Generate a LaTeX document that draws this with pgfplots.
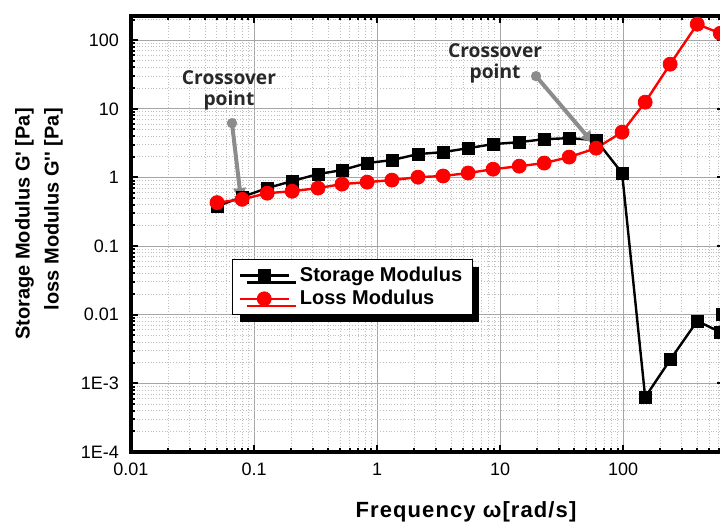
\documentclass[border=0pt]{standalone}
\usepackage{pgfplots}
\pgfplotsset{compat=1.18}
\usepackage{fontspec}
\setmainfont{Liberation Sans}
\newfontfamily\notefont{Open Sans}
\usetikzlibrary{shadows,arrows.meta}

\definecolor{arrowgray}{RGB}{140,140,140}
\definecolor{notegray}{RGB}{40,40,40}

% Storage modulus G' and loss modulus G'' against angular frequency
\pgfplotstableread{
w       Gs
0.050   0.38
0.080   0.52
0.128   0.70
0.204   0.885
0.331   1.12
0.519   1.28
0.830   1.62
1.32    1.79
2.15    2.19
3.44    2.34
5.50    2.67
8.77    3.06
14.3    3.27
22.8    3.61
36.4    3.74
60.3    3.50
98      1.16
151     0.00063
241     0.0022
400     0.0081
615     0.0056
638     0.0102
}\storage

\pgfplotstableread{
w       Gl
0.050   0.43
0.080   0.48
0.128   0.59
0.204   0.63
0.331   0.70
0.519   0.80
0.830   0.855
1.32    0.915
2.15    1.01
3.44    1.05
5.50    1.16
8.77    1.32
14.3    1.46
22.8    1.62
36.4    1.98
60.3    2.67
98      4.57
151     12.5
241     44.7
400     171
615     126
}\loss

\begin{document}
\begin{tikzpicture}
\useasboundingbox (0,0) rectangle (360pt,263.5pt);
\clip (0,0) rectangle (360pt,263.5pt);
\begin{axis}[
  at={(65.5pt,37.5pt)}, anchor=south west,
  scale only axis, width=296.5pt, height=218pt,
  xmode=log, ymode=log,
  xmin=0.01, xmax=660, ymin=1e-4, ymax=225,
  xtick={0.01,0.1,1,10,100},
  xticklabels={0.01,0.1,1,10,100},
  minor xtick={0.02,0.03,0.04,0.05,0.06,0.07,0.08,0.09,
               0.2,0.3,0.4,0.5,0.6,0.7,0.8,0.9,
               2,3,4,5,6,7,8,9,20,30,40,50,60,70,80,90,
               200,300,400,500,600},
  ytick={1e-4,1e-3,0.01,0.1,1,10,100},
  yticklabels={1E-4,1E-3,0.01,0.1,1,10,100},
  minor ytick={2e-4,3e-4,4e-4,5e-4,6e-4,7e-4,8e-4,9e-4,
               2e-3,3e-3,4e-3,5e-3,6e-3,7e-3,8e-3,9e-3,
               0.02,0.03,0.04,0.05,0.06,0.07,0.08,0.09,
               0.2,0.3,0.4,0.5,0.6,0.7,0.8,0.9,
               2,3,4,5,6,7,8,9,20,30,40,50,60,70,80,90,200},
  grid=both,
  major grid style={gray!70, line width=0.5pt},
  minor grid style={gray!50, densely dotted, line width=0.5pt},
  axis line style={line width=1.6pt},
  tick style={black, line width=1pt},
  major tick length=3.5pt, minor tick length=2pt,
  tick label style={font=\fontsize{9}{10}\selectfont},
  yticklabel style={xshift=-2.5pt},
  xticklabel style={yshift=-2pt},
  legend style={at={(0.1703,0.4427)}, anchor=north west,
    draw=black, line width=0.6pt, fill=white,
    drop shadow={shadow xshift=3.5pt, shadow yshift=-3.5pt, fill=black, opacity=1},
    font=\fontsize{10}{12}\selectfont\bfseries,
    inner xsep=3pt, inner ysep=1.5pt, row sep=-1pt, column sep=3pt},
  legend cell align=left,
  legend image code/.code={
    \draw[mark repeat=2,mark phase=2] plot coordinates {(0cm,0cm) (0.43cm,0cm) (0.86cm,0cm)};},
]
\addplot[black, line width=1.2pt, mark=square*, mark size=3pt,
  mark options={solid, line width=0.4pt}] table[x=w, y=Gs] {\storage};
\addlegendentry{Storage Modulus}
\addplot[red, line width=1.2pt, mark=*, mark size=3.5pt,
  mark options={solid, line width=0.4pt}] table[x=w, y=Gl] {\loss};
\addlegendentry{Loss Modulus}

% crossover annotations
\draw[arrowgray, line width=2pt, -{Triangle[length=6pt,width=6pt]}]
  (axis cs:0.0662,6.18) -- (axis cs:0.0784,0.468);
\fill[arrowgray] (axis cs:0.0662,6.18) circle (2.6pt);
\node[font={\notefont\bfseries\fontsize{9.6}{10.6}\selectfont}, text=notegray, align=center]
  at (axis cs:0.0626,18.7) {Crossover\\point};

\draw[arrowgray, line width=2pt, -{Triangle[length=6pt,width=6pt]}]
  (axis cs:19.6,29.9) -- (axis cs:57,3.16);
\fill[arrowgray] (axis cs:19.6,29.9) circle (2.6pt);
\node[font={\notefont\bfseries\fontsize{9.6}{10.6}\selectfont}, text=notegray, align=center]
  at (axis cs:9.1,46.3) {Crossover\\point};
\end{axis}

\node[rotate=90, align=right, font=\fontsize{10}{14.5}\selectfont\bfseries]
  at (19.5pt,151.5pt)
  {Storage Modulus G\textquotesingle{} [Pa]\\loss Modulus G\textquotesingle\textquotesingle{} [Pa]};
\node[anchor=base, font=\fontsize{11}{12}\selectfont\bfseries\addfontfeature{LetterSpace=5}]
  at (233pt,5pt) {Frequency ω[rad/s]};
\end{tikzpicture}
\end{document}
